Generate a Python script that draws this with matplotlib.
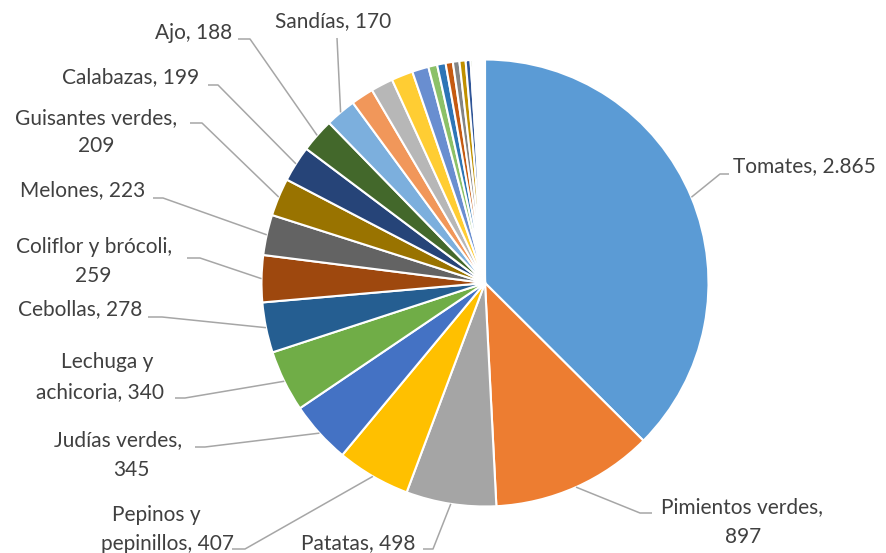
import numpy as np
import matplotlib
matplotlib.use("Agg")
import matplotlib.pyplot as plt

# ---------------- data ----------------
labeled_names = ["Tomates", "Pimientos verdes", "Patatas", "Pepinos y pepinillos",
                 "Judías verdes", "Lechuga y achicoria", "Cebollas", "Coliflor y brócoli",
                 "Melones", "Guisantes verdes", "Calabazas", "Ajo", "Sandías"]
labeled_values = [2865, 897, 498, 407, 345, 340, 278, 259, 223, 209, 199, 188, 170]
# unlabeled small slices
small_values = [125, 123, 119, 91, 49, 47, 40, 36, 34, 27,
                12, 10, 9, 8, 7, 6, 6, 5, 5, 4, 4, 3]
# displayed label texts (Spanish number format)
label_lines = [
    ["Tomates, 2.865"],
    ["Pimientos verdes,", "897"],
    ["Patatas, 498"],
    ["Pepinos y", "pepinillos, 407"],
    ["Judías verdes,", "345"],
    ["Lechuga y", "achicoria, 340"],
    ["Cebollas, 278"],
    ["Coliflor y brócoli,", "259"],
    ["Melones, 223"],
    ["Guisantes verdes,", "209"],
    ["Calabazas, 199"],
    ["Ajo, 188"],
    ["Sandías, 170"],
]

palette = ['#5B9BD5', '#ED7D31', '#A5A5A5', '#FFC000', '#4472C4', '#70AD47',
           '#255E91', '#9E480E', '#636363', '#997300', '#264478', '#43682B',
           '#7CAFDD', '#F1975A', '#B7B7B7', '#FFCD33', '#698ED0', '#8CC168',
           '#2E75B6', '#C55A11', '#848484', '#C09000', '#2F5597', '#548235',
           '#9DC3E6', '#F4B183', '#C9C9C9', '#FFD966', '#8FAADC', '#A9D18E',
           '#1F4E79', '#843C0C', '#525252', '#7F6000', '#203864', '#385723']

# ---------------- layout (pixel coordinates, origin top-left) ----------------
W, H = 886, 553
CX, CY, R = 485, 283, 223.5
# per label: text line centres (x, y) ; leader elbow ; leader end
text_pos = [
    [(733, 166, 'left')],
    [(742, 507, 'center'), (743, 537, 'center')],
    [(358, 543, 'center')],
    [(156, 515, 'center'), (168, 544, 'center')],
    [(118, 440, 'center'), (131, 470, 'center')],
    [(107, 362, 'center'), (100, 392, 'center')],
    [(80, 309, 'center')],
    [(94, 247, 'center'), (93, 276, 'center')],
    [(83, 190, 'center')],
    [(96, 118, 'center'), (96, 146, 'center')],
    [(131, 77, 'center')],
    [(194, 33, 'center')],
    [(333, 21, 'center')],
]
elbows = [(720, 174), (640, 513), (433, 549), (245, 549), (205, 447), (185, 398),
          (162, 317), (200, 258), (163, 198), (202, 123), (218, 85), (250, 39), (337, 38)]
ends = [(729, 174), (652, 513), (423, 549), (232, 549), (195, 447), (175, 398),
        (148, 317), (187, 258), (153, 198), (190, 123), (208, 85), (238, 39), (337, 38)]

values = labeled_values + small_values
colors = palette[:len(values)]

plt.rcParams['font.family'] = ['Lato', 'DejaVu Sans']

fig = plt.figure(figsize=(W / 100, H / 100), dpi=100)
ax = fig.add_axes([0, 0, 1, 1])

wedges, _ = ax.pie(values, colors=colors, startangle=-90, counterclock=True,
                   radius=R, center=(CX, CY),
                   wedgeprops=dict(edgecolor='white', linewidth=1.5))
ax.set_xlim(0, W)
ax.set_ylim(H, 0)
ax.set_aspect('equal')
ax.axis('off')

text_color = '#404040'
line_color = '#A6A6A6'
for i, lines in enumerate(label_lines):
    w = wedges[i]
    ang = np.deg2rad((w.theta1 + w.theta2) / 2)
    sx = CX + R * np.cos(ang)
    sy = CY + R * np.sin(ang)
    ex, ey = elbows[i]
    fx, fy = ends[i]
    ax.plot([sx, ex, fx], [sy, ey, fy], color=line_color, lw=1.1,
            solid_capstyle='butt', zorder=1)
    for txt, (tx, ty, ha) in zip(lines, text_pos[i]):
        ax.text(tx, ty, txt, ha=ha, va='center', fontsize=15, color=text_color)

fig.savefig("out.png", dpi=100)
